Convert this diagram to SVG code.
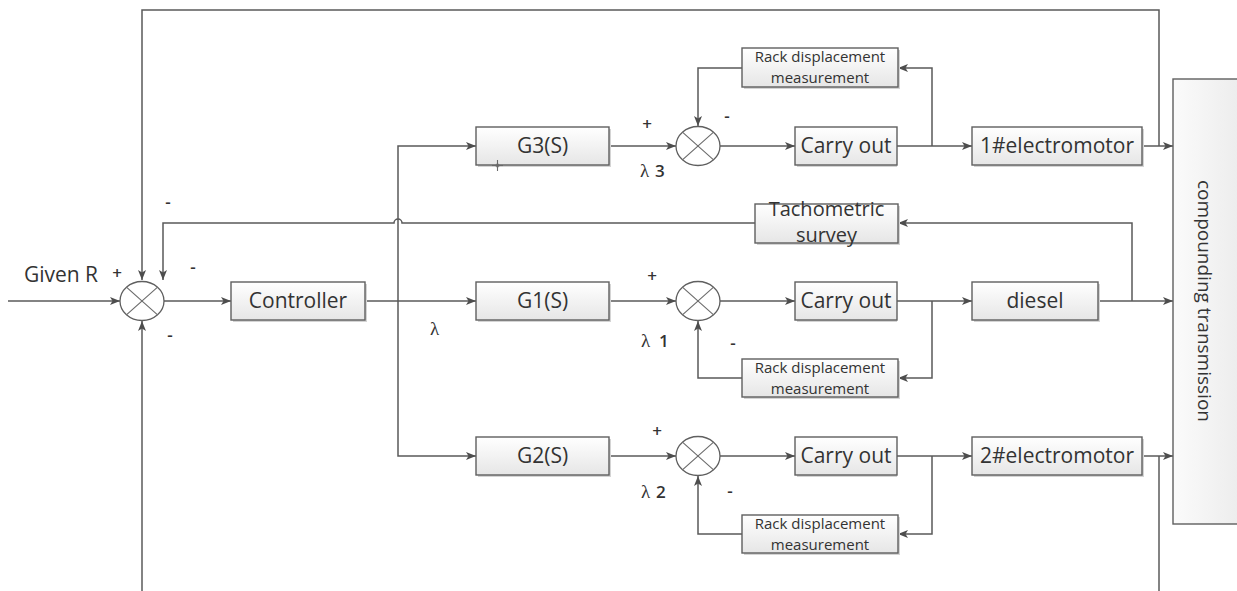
<svg xmlns="http://www.w3.org/2000/svg" width="1237" height="591" viewBox="0 0 1237 591">
<defs>
<linearGradient id="bg" x1="0" y1="0" x2="0" y2="1">
<stop offset="0" stop-color="#ffffff"/>
<stop offset="1" stop-color="#e6e6e6"/>
</linearGradient>
<linearGradient id="bgh" x1="0" y1="0" x2="1" y2="0">
<stop offset="0" stop-color="#fbfbfb"/>
<stop offset="1" stop-color="#ececec"/>
</linearGradient>
<marker id="ar" markerUnits="userSpaceOnUse" markerWidth="12" markerHeight="10" refX="10" refY="4" orient="auto">
<path d="M0,0 L10,4 L0,8 L2.5,4 Z" fill="#4d4d4d"/>
</marker>
</defs>
<style>
.box{fill:url(#bg);stroke:#5f5f5f;stroke-width:1.4}
.sh{fill:#d4d4d4}
.ln{fill:none;stroke:#5a5a5a;stroke-width:1.5}
.arr{fill:none;stroke:#5a5a5a;stroke-width:1.5;marker-end:url(#ar)}
.t{font-family:"Open Sans","Liberation Sans",sans-serif;font-size:21px;fill:#333;text-anchor:middle}
.tt{font-family:"Open Sans","Liberation Sans",sans-serif;font-size:20px;fill:#333;text-anchor:middle}
.ts{font-family:"Open Sans","Liberation Sans",sans-serif;font-size:15px;fill:#333;text-anchor:middle}
.sg{font-family:"Open Sans","Liberation Sans",sans-serif;font-size:17px;font-weight:600;fill:#333;text-anchor:middle}
.lam{font-family:"Liberation Serif","DejaVu Serif",serif;font-size:19px;fill:#333}
.dig{font-family:"Open Sans","Liberation Sans",sans-serif;font-size:17px;font-weight:600;fill:#333}
.jc{fill:#fff;stroke:#5f5f5f;stroke-width:1.3}
.jx{stroke:#6a6a6a;stroke-width:1.1}
</style>
<rect width="1237" height="591" fill="#ffffff"/>

<g id="connectors">
<path class="arr" d="M8,301 L120,301"/>
<path class="arr" d="M1159,146 L1159,10 L142,10 L142,280"/>
<path class="ln" d="M1159,456 L1159,595"/>
<path class="arr" d="M142,595 L142,321"/>
<path class="arr" d="M1132,301 L1132,223 L898,223"/>
<path class="arr" d="M755,223 L402,223 A4,4 0 0 0 394,223 L163,223 L163,280"/>
<path class="arr" d="M164,301 L231,301"/>
<path class="arr" d="M365,301 L476,301"/>
<path class="arr" d="M398,301 L398,146 L476,146"/>
<path class="arr" d="M398,301 L398,456 L476,456"/>
<path class="arr" d="M609,146 L676,146"/>
<path class="arr" d="M609,301 L676,301"/>
<path class="arr" d="M609,456 L676,456"/>
<path class="arr" d="M720,146 L795,146"/>
<path class="arr" d="M720,301 L795,301"/>
<path class="arr" d="M720,456 L795,456"/>
<path class="arr" d="M897,146 L972,146"/>
<path class="arr" d="M897,301 L972,301"/>
<path class="arr" d="M897,456 L972,456"/>
<path class="arr" d="M932,146 L932,68 L898,68"/>
<path class="arr" d="M742,68 L698,68 L698,126"/>
<path class="arr" d="M932,301 L932,378 L898,378"/>
<path class="arr" d="M742,378 L698,378 L698,321"/>
<path class="arr" d="M932,456 L932,534 L898,534"/>
<path class="arr" d="M742,534 L698,534 L698,476"/>
<path class="arr" d="M1142,146 L1173,146"/>
<path class="arr" d="M1098,301 L1173,301"/>
<path class="arr" d="M1142,456 L1173,456"/>
</g>

<g id="sum0">
<ellipse class="jc" cx="142" cy="301" rx="22" ry="19.5"/>
<line class="jx" x1="126.4" y1="287.2" x2="157.6" y2="314.8"/>
<line class="jx" x1="157.6" y1="287.2" x2="126.4" y2="314.8"/>
</g>
<g id="controller">
<rect class="sh" x="233" y="284" width="134" height="38"/>
<rect class="box" x="231" y="282" width="134" height="38"/>
<text class="t" x="298" y="308">Controller</text>
</g>

<g id="g3">
<rect class="sh" x="478" y="129" width="133" height="38"/>
<rect class="box" x="476" y="127" width="133" height="38"/>
<text class="t" x="542.5" y="153">G3(S)</text>
<line class="jx" x1="492" y1="165.5" x2="503" y2="165.5"/>
<line class="jx" x1="497.5" y1="160" x2="497.5" y2="171"/>
<circle cx="497.5" cy="165.5" r="1.6" fill="none" stroke="#6a6a6a" stroke-width="0.9"/>
</g>
<g id="g1">
<rect class="sh" x="478" y="284" width="133" height="38"/>
<rect class="box" x="476" y="282" width="133" height="38"/>
<text class="t" x="542.5" y="308">G1(S)</text>
</g>
<g id="g2">
<rect class="sh" x="478" y="439" width="133" height="38"/>
<rect class="box" x="476" y="437" width="133" height="38"/>
<text class="t" x="542.5" y="463">G2(S)</text>
</g>

<g id="sum3">
<ellipse class="jc" cx="698" cy="146" rx="22" ry="19.5"/>
<line class="jx" x1="682.4" y1="132.2" x2="713.6" y2="159.8"/>
<line class="jx" x1="713.6" y1="132.2" x2="682.4" y2="159.8"/>
</g>
<g id="sum1">
<ellipse class="jc" cx="698" cy="301" rx="22" ry="19.5"/>
<line class="jx" x1="682.4" y1="287.2" x2="713.6" y2="314.8"/>
<line class="jx" x1="713.6" y1="287.2" x2="682.4" y2="314.8"/>
</g>
<g id="sum2">
<ellipse class="jc" cx="698" cy="456" rx="22" ry="19.5"/>
<line class="jx" x1="682.4" y1="442.2" x2="713.6" y2="469.8"/>
<line class="jx" x1="713.6" y1="442.2" x2="682.4" y2="469.8"/>
</g>

<g id="carry3">
<rect class="sh" x="797" y="129" width="100" height="38"/>
<rect class="box" x="795" y="127" width="102" height="38"/>
<text class="t" x="846" y="153">Carry out</text>
</g>
<g id="carry1">
<rect class="sh" x="797" y="284" width="100" height="38"/>
<rect class="box" x="795" y="282" width="102" height="38"/>
<text class="t" x="846" y="308">Carry out</text>
</g>
<g id="carry2">
<rect class="sh" x="797" y="439" width="100" height="38"/>
<rect class="box" x="795" y="437" width="102" height="38"/>
<text class="t" x="846" y="463">Carry out</text>
</g>

<g id="rack3">
<rect class="sh" x="744" y="50" width="156" height="39"/>
<rect class="box" x="742" y="48" width="156" height="39"/>
<text class="ts" x="820" y="62">Rack displacement</text>
<text class="ts" x="820" y="82.5">measurement</text>
</g>
<g id="rack1">
<rect class="sh" x="744" y="361" width="156" height="38"/>
<rect class="box" x="742" y="359" width="156" height="38"/>
<text class="ts" x="820" y="373">Rack displacement</text>
<text class="ts" x="820" y="393.5">measurement</text>
</g>
<g id="rack2">
<rect class="sh" x="744" y="517" width="156" height="38"/>
<rect class="box" x="742" y="515" width="156" height="38"/>
<text class="ts" x="820" y="529">Rack displacement</text>
<text class="ts" x="820" y="549.5">measurement</text>
</g>

<g id="tacho">
<rect class="sh" x="757" y="206" width="143" height="39"/>
<rect class="box" x="755" y="204" width="143" height="39"/>
<text class="tt" x="826.5" y="216">Tachometric</text>
<text class="tt" x="826.5" y="242">survey</text>
</g>

<g id="motor1">
<rect class="sh" x="974" y="129" width="170" height="38"/>
<rect class="box" x="972" y="127" width="170" height="38"/>
<text class="t" x="1057" y="153">1#electromotor</text>
</g>
<g id="diesel">
<rect class="sh" x="974" y="284" width="126" height="38"/>
<rect class="box" x="972" y="282" width="126" height="38"/>
<text class="t" x="1035" y="308">diesel</text>
</g>
<g id="motor2">
<rect class="sh" x="974" y="439" width="170" height="38"/>
<rect class="box" x="972" y="437" width="170" height="38"/>
<text class="t" x="1057" y="463">2#electromotor</text>
</g>

<g id="compounding">
<rect x="1173" y="79" width="70" height="445" fill="url(#bgh)" stroke="#5f5f5f" stroke-width="1.4"/>
<text class="t" style="font-size:19px" transform="translate(1198,301) rotate(90)" x="0" y="0">compounding transmission</text>
</g>

<g id="labels">
<text class="t" x="61" y="282">Given R</text>
<text class="sg" x="117" y="279">+</text>
<text class="sg" x="168" y="208">-</text>
<text class="sg" x="193" y="273">-</text>
<text class="sg" x="170" y="341">-</text>
<text class="lam" x="430" y="335">λ</text>
<text class="sg" x="647" y="130">+</text>
<text class="sg" x="727" y="122">-</text>
<text x="640" y="177"><tspan class="lam">λ</tspan><tspan class="dig" x="655">3</tspan></text>
<text class="sg" x="652" y="282">+</text>
<text class="sg" x="733" y="349">-</text>
<text x="641" y="347"><tspan class="lam">λ</tspan><tspan class="dig" x="659">1</tspan></text>
<text class="sg" x="657" y="437">+</text>
<text class="sg" x="730" y="497">-</text>
<text x="641" y="498"><tspan class="lam">λ</tspan><tspan class="dig" x="656">2</tspan></text>
</g>
</svg>
